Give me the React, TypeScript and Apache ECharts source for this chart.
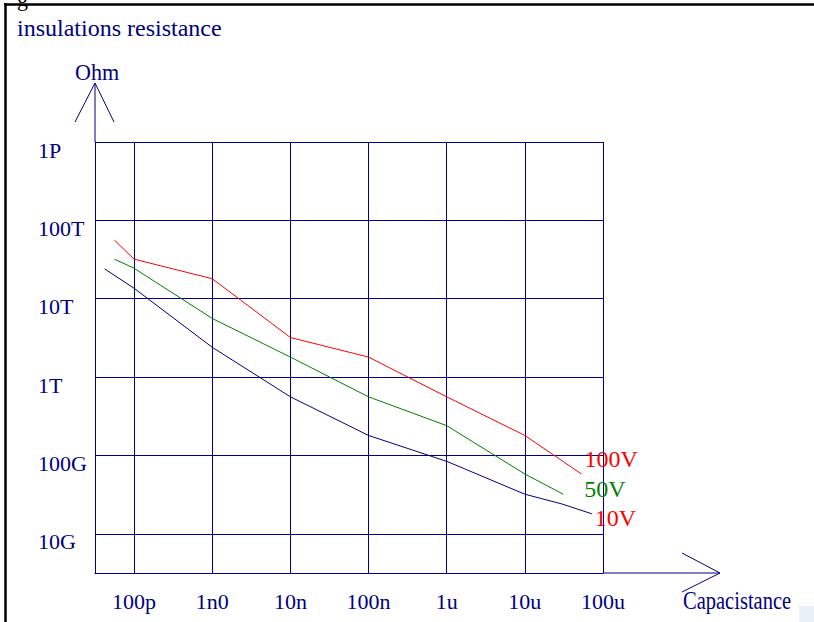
import React, { useEffect, useRef } from "react";
import * as echarts from "echarts";

// Capacitance (F) and insulation resistance (Ohm)
const cap100V = [5.6e-11, 1e-10, 1e-9, 1e-8, 1e-7, 1e-6, 1e-5, 5.3e-5];
const res100V = [5.6e13, 3.2e13, 1.8e13, 3.2e12, 1.8e12, 5.6e11, 1.8e11, 5.8e10];
const cap50V = [5.6e-11, 1e-10, 1e-9, 1e-8, 1e-7, 1e-6, 1e-5, 3.1e-5];
const res50V = [3.2e13, 2.45e13, 5.6e12, 1.8e12, 5.6e11, 2.4e11, 5.8e10, 3.2e10];
const cap10V = [4.2e-11, 1e-10, 1e-9, 1e-8, 1e-7, 1e-6, 1.36e-6, 1e-5, 3.0e-5, 7.2e-5];
const res10V = [2.4e13, 1.36e13, 2.4e12, 5.6e11, 1.8e11, 8.4e10, 7.4e10, 3.2e10, 2.4e10, 1.8e10];

const seriesNames = ["100V", "50V", "10V"];
const xTickLabels = ["100p", "1n0", "10n", "100n", "1u", "10u", "100u"]; // 1e-10 .. 1e-4
const X_FIRST_EXP = -10;
const yTickLabels = ["10G", "100G", "1T", "10T", "100T", "1P"]; // 1e10 .. 1e15
const Y_FIRST_EXP = 10;

const NAVY = "#000080";
const FONT = '"Liberation Serif", "Times New Roman", serif';

function labelFor(v: number, labels: string[], first: number) {
  const e = Math.log10(v);
  const r = Math.round(e);
  if (Math.abs(e - r) > 1e-6) return "";
  return labels[r - first] ?? "";
}

function pairs(xs: number[], ys: number[]) {
  return xs.map((x, i) => [x, ys[i]]);
}

export default function App() {
  const ref = useRef<HTMLDivElement>(null);
  useEffect(() => {
    if (!ref.current) return;
    const chart = echarts.init(ref.current, null, { renderer: "svg" });
    const lineStyle = { width: 1 };
    const endLabelBase = { show: true, fontSize: 24, fontFamily: FONT };
    chart.setOption({
      animation: false,
      backgroundColor: "#ffffff",
      title: {
        text: "insulations resistance",
        left: 17,
        top: 16,
        padding: 0,
        textStyle: { fontSize: 24, fontWeight: "normal", color: NAVY, fontFamily: FONT },
      },
      grid: { left: 95, right: 211, top: 142, bottom: 49, containLabel: false },
      xAxis: {
        type: "log",
        logBase: 10,
        min: Math.pow(10, -10.5),
        max: 1e-4,
        axisLine: { show: true, lineStyle: { color: NAVY, width: 1 } },
        axisTick: { show: false },
        splitLine: { show: true, lineStyle: { color: NAVY, width: 1 } },
        minorSplitLine: { show: false },
        axisLabel: {
          color: NAVY,
          fontSize: 22,
          fontFamily: FONT,
          margin: 17,
          formatter: (v: number) => labelFor(v, xTickLabels, X_FIRST_EXP),
        },
      },
      yAxis: {
        type: "log",
        logBase: 10,
        min: Math.pow(10, 9.5),
        max: 1e15,
        axisLine: { show: true, lineStyle: { color: NAVY, width: 1 } },
        axisTick: { show: false },
        splitLine: { show: true, lineStyle: { color: NAVY, width: 1 } },
        axisLabel: {
          color: NAVY,
          fontSize: 22,
          fontFamily: FONT,
          align: "left",
          margin: 57,
          verticalAlign: "top",
          lineHeight: 16,
          formatter: (v: number) => labelFor(v, yTickLabels, Y_FIRST_EXP),
        },
      },
      series: [
        {
          name: seriesNames[0],
          type: "line",
          data: pairs(cap100V, res100V),
          showSymbol: false,
          symbol: "none",
          color: "#ff0000",
          lineStyle,
          endLabel: { ...endLabelBase, formatter: seriesNames[0], color: "#ff0000", offset: [-5, -15] },
        },
        {
          name: seriesNames[1],
          type: "line",
          data: pairs(cap50V, res50V),
          showSymbol: false,
          symbol: "none",
          color: "#008000",
          lineStyle,
          endLabel: { ...endLabelBase, formatter: seriesNames[1], color: "#008000", offset: [13, -5] },
        },
        {
          name: seriesNames[2],
          type: "line",
          data: pairs(cap10V, res10V),
          showSymbol: false,
          symbol: "none",
          color: NAVY,
          lineStyle,
          endLabel: { ...endLabelBase, formatter: seriesNames[2], color: "#ff0000", offset: [-5, 4] },
        },
      ],
      graphic: [
        // page border fragments
        { type: "line", shape: { x1: 4, y1: 4.5, x2: 814, y2: 4.5 }, style: { stroke: "#000", lineWidth: 2.5 } },
        { type: "line", shape: { x1: 5.5, y1: 3, x2: 5.5, y2: 622 }, style: { stroke: "#000", lineWidth: 2.5 } },
        { type: "text", x: 17, y: -13, style: { text: "g", fontSize: 22, fontFamily: FONT, fill: "#000" } },
        // y axis extension and arrow
        { type: "line", shape: { x1: 95, y1: 142, x2: 95, y2: 83 }, style: { stroke: NAVY, lineWidth: 1 } },
        { type: "polyline", shape: { points: [[75, 122], [95, 83], [114, 122]] }, style: { stroke: NAVY, lineWidth: 1, fill: "none" } },
        {
          type: "text",
          x: 75,
          y: 72,
          scaleX: 0.92,
          style: { text: "Ohm", fontSize: 24, fontFamily: FONT, fill: NAVY, verticalAlign: "middle" },
        },
        // x axis extension and arrow
        { type: "line", shape: { x1: 603, y1: 573, x2: 720, y2: 573 }, style: { stroke: NAVY, lineWidth: 1 } },
        { type: "polyline", shape: { points: [[682, 553], [720, 573], [682, 592]] }, style: { stroke: NAVY, lineWidth: 1, fill: "none" } },
        {
          type: "text",
          x: 683,
          y: 601,
          scaleX: 0.82,
          style: { text: "Capacistance", fontSize: 25, fontFamily: FONT, fill: NAVY, verticalAlign: "middle" },
        },
        { type: "rect", shape: { x: 799, y: 606, width: 15, height: 16 }, style: { fill: "#e9f0f8" } },
      ],
    });
    return () => chart.dispose();
  }, []);
  return <div ref={ref} style={{ position: "fixed", left: 0, top: 0, width: 814, height: 622 }} />;
}
